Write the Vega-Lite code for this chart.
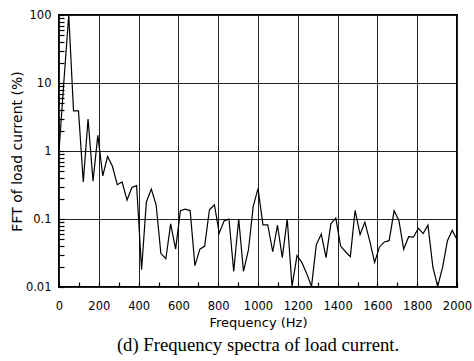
{
  "$schema": "https://vega.github.io/schema/vega-lite/v6.json",
  "width": 398,
  "height": 272,
  "autosize": "none",
  "padding": {"left": 59, "top": 15, "right": 17, "bottom": 74},
  "background": "white",
  "title": {"text": "(d) Frequency spectra of load current.", "orient": "bottom", "font": "Liberation Serif", "fontSize": 18.7, "fontWeight": "normal", "color": "black", "offset": 6},
  "config": {"view": {"stroke": "black", "strokeWidth": 2}},
  "data": {"values": [
    {"f": 0, "v": 1.0}, {"f": 24, "v": 10}, {"f": 49, "v": 100}, {"f": 73, "v": 3.9}, {"f": 98, "v": 3.9},
    {"f": 122, "v": 0.35}, {"f": 146, "v": 2.95}, {"f": 171, "v": 0.36}, {"f": 195, "v": 1.7}, {"f": 220, "v": 0.43},
    {"f": 244, "v": 0.83}, {"f": 268, "v": 0.6}, {"f": 293, "v": 0.32}, {"f": 317, "v": 0.35}, {"f": 342, "v": 0.19},
    {"f": 366, "v": 0.29}, {"f": 390, "v": 0.31}, {"f": 415, "v": 0.018}, {"f": 439, "v": 0.178}, {"f": 464, "v": 0.275},
    {"f": 488, "v": 0.162}, {"f": 512, "v": 0.031}, {"f": 537, "v": 0.026}, {"f": 561, "v": 0.085}, {"f": 586, "v": 0.036},
    {"f": 610, "v": 0.132}, {"f": 634, "v": 0.14}, {"f": 659, "v": 0.133}, {"f": 683, "v": 0.0206}, {"f": 708, "v": 0.036},
    {"f": 732, "v": 0.04}, {"f": 756, "v": 0.137}, {"f": 781, "v": 0.162}, {"f": 805, "v": 0.062}, {"f": 830, "v": 0.094},
    {"f": 854, "v": 0.1}, {"f": 878, "v": 0.017}, {"f": 903, "v": 0.1}, {"f": 927, "v": 0.017}, {"f": 952, "v": 0.035},
    {"f": 976, "v": 0.153}, {"f": 1000, "v": 0.28}, {"f": 1025, "v": 0.082}, {"f": 1049, "v": 0.082}, {"f": 1074, "v": 0.033},
    {"f": 1098, "v": 0.081}, {"f": 1122, "v": 0.027}, {"f": 1147, "v": 0.1}, {"f": 1171, "v": 0.0102}, {"f": 1196, "v": 0.029},
    {"f": 1220, "v": 0.023}, {"f": 1244, "v": 0.016}, {"f": 1269, "v": 0.0102}, {"f": 1293, "v": 0.042}, {"f": 1318, "v": 0.06},
    {"f": 1342, "v": 0.027}, {"f": 1366, "v": 0.085}, {"f": 1391, "v": 0.103}, {"f": 1415, "v": 0.04}, {"f": 1440, "v": 0.033},
    {"f": 1464, "v": 0.028}, {"f": 1488, "v": 0.134}, {"f": 1513, "v": 0.059}, {"f": 1537, "v": 0.09}, {"f": 1562, "v": 0.047},
    {"f": 1586, "v": 0.023}, {"f": 1610, "v": 0.0385}, {"f": 1635, "v": 0.046}, {"f": 1659, "v": 0.048}, {"f": 1684, "v": 0.132},
    {"f": 1708, "v": 0.095}, {"f": 1732, "v": 0.036}, {"f": 1757, "v": 0.055}, {"f": 1781, "v": 0.054}, {"f": 1806, "v": 0.073},
    {"f": 1830, "v": 0.061}, {"f": 1854, "v": 0.081}, {"f": 1879, "v": 0.0195}, {"f": 1903, "v": 0.0102}, {"f": 1928, "v": 0.0197},
    {"f": 1952, "v": 0.048}, {"f": 1976, "v": 0.068}, {"f": 2000, "v": 0.05}
  ]},
  "mark": {"type": "line", "color": "black", "strokeWidth": 1.2, "clip": true},
  "encoding": {
    "x": {
      "field": "f", "type": "quantitative",
      "scale": {"domain": [0, 2000], "nice": false},
      "axis": {
        "title": "Frequency (Hz)",
        "values": [0, 100, 200, 300, 400, 500, 600, 700, 800, 900, 1000, 1100, 1200, 1300, 1400, 1500, 1600, 1700, 1800, 1900, 2000],
        "labelExpr": "datum.value % 200 === 0 ? datum.value : ''",
        "labelOverlap": false,
        "labelFlush": false,
        "grid": true,
        "gridColor": "#222",
        "gridWidth": 1,
        "gridOpacity": {"condition": {"test": "datum.value % 200 === 0", "value": 1}, "value": 0},
        "domain": false,
        "ticks": true,
        "tickSize": -5,
        "tickColor": "black",
        "tickWidth": 1.2,
        "labelFont": "DejaVu Sans",
        "labelFontSize": 11.5,
        "labelColor": "black",
        "labelPadding": 18,
        "titleFont": "DejaVu Sans",
        "titleFontSize": 13,
        "titleFontWeight": "normal",
        "titleColor": "black",
        "titlePadding": 5
      }
    },
    "y": {
      "field": "v", "type": "quantitative",
      "scale": {"type": "log", "domain": [0.01, 100], "nice": false},
      "axis": {
        "title": "FFT of load current (%)",
        "values": [0.01, 0.02, 0.03, 0.04, 0.05, 0.06, 0.07, 0.08, 0.09, 0.1, 0.2, 0.3, 0.4, 0.5, 0.6, 0.7, 0.8, 0.9, 1, 2, 3, 4, 5, 6, 7, 8, 9, 10, 20, 30, 40, 50, 60, 70, 80, 90, 100],
        "labelExpr": "abs(log(datum.value)/LN10 - round(log(datum.value)/LN10)) < 0.001 ? (datum.value >= 1 ? format(datum.value, 'd') : format(datum.value, '.2~f')) : ''",
        "labelOverlap": false,
        "labelFlush": false,
        "grid": true,
        "gridColor": "#222",
        "gridWidth": 1,
        "gridOpacity": {"condition": {"test": "abs(log(datum.value)/LN10 - round(log(datum.value)/LN10)) < 0.001", "value": 1}, "value": 0},
        "domain": false,
        "ticks": true,
        "tickSize": -5,
        "tickColor": "black",
        "tickWidth": 1.2,
        "labelFont": "DejaVu Sans",
        "labelFontSize": 11.5,
        "labelColor": "black",
        "labelPadding": 13,
        "titleFont": "DejaVu Sans",
        "titleFontSize": 14,
        "titleFontWeight": "normal",
        "titleColor": "black",
        "titlePadding": 1
      }
    }
  }
}
